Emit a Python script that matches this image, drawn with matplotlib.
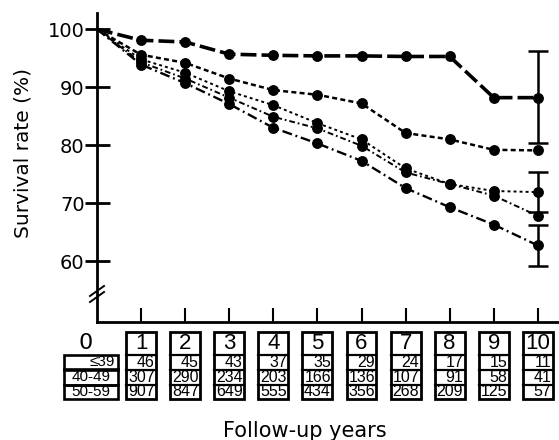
import matplotlib
matplotlib.use('Agg')
import matplotlib.pyplot as plt
from matplotlib.patches import Rectangle
from matplotlib.lines import Line2D
from matplotlib.transforms import blended_transform_factory


years = [0, 1, 2, 3, 4, 5, 6, 7, 8, 9, 10]

# survival rate (%) for the five curves, top to bottom
seriesA = [100, 98.1, 97.8, 95.7, 95.5, 95.4, 95.4, 95.3, 95.3, 88.2, 88.2]
seriesB = [100, 95.6, 94.2, 91.5, 89.5, 88.7, 87.2, 82.1, 81.0, 79.2, 79.1]
seriesC = [100, 94.8, 92.5, 89.3, 86.9, 83.8, 81.0, 76.0, 73.3, 72.1, 71.9]
seriesD = [100, 94.3, 91.5, 88.2, 84.9, 82.9, 79.9, 75.3, 73.3, 71.3, 67.8]
seriesE = [100, 93.9, 90.7, 87.1, 83.0, 80.3, 77.3, 72.6, 69.3, 66.3, 62.7]

# error bars at year 10 (low, high)
errA = (80.3, 96.3)
errC = (68.4, 75.4)
errE = (59.2, 66.3)

# numbers at risk per age group
rowLabels = ['\u226439', '40-49', '50-59']
atRisk39 = [46, 45, 43, 37, 35, 29, 24, 17, 15, 11]
atRisk40 = [307, 290, 234, 203, 166, 136, 107, 91, 58, 41]
atRisk50 = [907, 847, 649, 555, 434, 356, 268, 209, 125, 57]

tableFont = ['Liberation Sans', 'DejaVu Sans']


def figY(pix):
    # pixel row (from top) -> figure fraction
    return 1 - pix / 440.0


def drawCurves(ax):
    styles = [
        (seriesA, 2.6, (4.4, 1.4)),
        (seriesB, 1.8, (2.0, 1.3)),
        (seriesC, 1.4, (1.5, 1.6)),
        (seriesD, 1.4, (3.0, 1.5, 0.9, 1.5)),
        (seriesE, 1.7, (4.2, 1.6, 0.8, 1.6)),
    ]
    for vals, lw, dash in styles:
        ax.plot(years, vals, color='black', lw=lw, dashes=dash,
                dash_capstyle='butt')
        ax.plot(years[1:], vals[1:], 'o', color='black', ms=6.8)

    for y, (lo, hi) in [(seriesA[-1], errA), (seriesC[-1], errC), (seriesE[-1], errE)]:
        ax.errorbar([10], [y], yerr=[[y - lo], [hi - y]], fmt='none',
                    ecolor='black', elinewidth=1.8, capsize=7, capthick=1.8)


def drawTable(fig, ax):
    tr = blended_transform_factory(ax.transData, fig.transFigure)
    perYear = 44.1  # pixels per year on the x axis
    topPix, numPix = 331.5, 355
    rowPix = [355, 369.5, 384.5, 399]
    lw = 1.6

    # column of row labels
    hx0 = -33 / perYear
    hw = 54 / perYear
    for i in range(3):
        r = Rectangle((hx0, figY(rowPix[i + 1])), hw,
                      figY(rowPix[i]) - figY(rowPix[i + 1]),
                      transform=tr, fill=False, lw=lw + 0.3, clip_on=False)
        fig.add_artist(r)
        ymid = figY((rowPix[i] + rowPix[i + 1]) / 2)
        if i == 0:
            fig.text(hx0 + hw - 3 / perYear, ymid, rowLabels[i], transform=tr,
                     fontsize=11, ha='right', va='center', family=tableFont)
        else:
            fig.text(hx0 + hw / 2, ymid, rowLabels[i], transform=tr,
                     fontsize=11, ha='center', va='center', family=tableFont)
    fig.text(-11 / perYear, figY(343), '0', transform=tr, fontsize=16,
             ha='center', va='center')

    bw = 30 / perYear
    counts = [atRisk39, atRisk40, atRisk50]
    for k, yr in enumerate(years[1:]):
        x0 = yr - bw / 2
        box = Rectangle((x0, figY(rowPix[-1])), bw, figY(topPix) - figY(rowPix[-1]),
                        transform=tr, fill=False, lw=lw + 0.4, clip_on=False)
        fig.add_artist(box)
        for p in rowPix[:-1]:
            fig.add_artist(Line2D([x0, x0 + bw], [figY(p), figY(p)],
                                  transform=tr, color='black', lw=lw))
        fig.text(yr, figY((topPix + numPix) / 2 + 0.5), str(yr), transform=tr,
                 fontsize=16, ha='center', va='center', family=tableFont)
        for i in range(3):
            ymid = figY((rowPix[i] + rowPix[i + 1]) / 2)
            fig.text(x0 + bw - 1.5 / perYear, ymid, str(counts[i][k]),
                     transform=tr, fontsize=11.5, ha='right', va='center',
                     family=tableFont)


def drawBreak(fig):
    for dy in [0, 6]:
        fig.add_artist(Line2D([90 / 559, 104 / 559],
                              [figY(296 + dy), figY(286 + dy)],
                              color='black', lw=1.4))


def plotData():
    fig = plt.figure(figsize=(5.59, 4.40), dpi=100)
    ax = fig.add_axes([97 / 559, figY(322), 1 - 97 / 559, figY(13) - figY(322)])

    drawCurves(ax)

    ax.set_xlim(0, 10.48)
    ax.set_ylim(49.5, 102.8)
    ax.spines['top'].set_visible(False)
    ax.spines['right'].set_visible(False)
    ax.spines['left'].set_linewidth(2)
    ax.spines['bottom'].set_linewidth(2)

    ax.set_yticks([60, 70, 80, 90, 100])
    ax.tick_params(axis='y', direction='inout', length=18, width=2,
                   labelsize=14, pad=0)
    ax.set_xticks(years[1:])
    ax.set_xticklabels([])
    ax.tick_params(axis='x', direction='in', length=10, width=1.5)

    fig.text(23 / 559, figY(153), 'Survival rate (%)', rotation=90,
             fontsize=14.5, ha='center', va='center')
    fig.text(305 / 559, figY(431), 'Follow-up years', fontsize=15,
             ha='center', va='center')

    drawTable(fig, ax)
    drawBreak(fig)

    fig.savefig('out.png', dpi=100)


if __name__ == '__main__':
    plotData()
